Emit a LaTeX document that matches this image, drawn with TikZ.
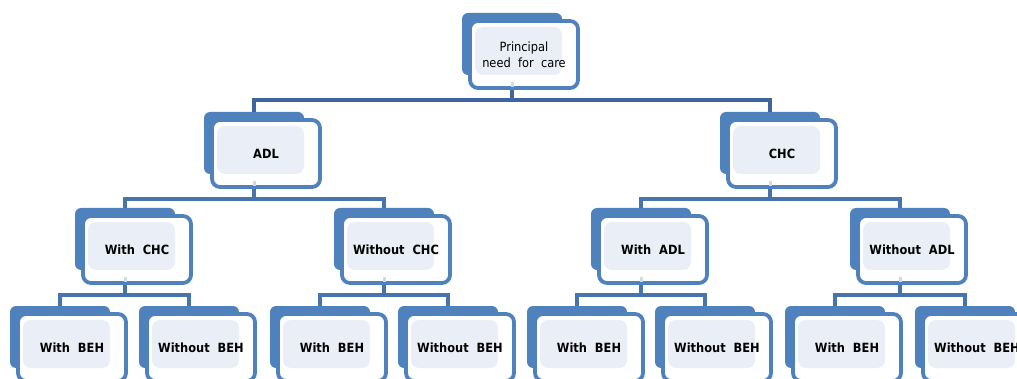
\documentclass[tikz,border=0pt]{standalone}
\usepackage{fontspec}
\setmainfont{DejaVu Sans Condensed}
\definecolor{boxblue}{HTML}{4F81BD}
\definecolor{innerblue}{HTML}{EAEFF7}
\definecolor{lineblue}{HTML}{4874AE}
\definecolor{topline}{HTML}{3F659E}
\definecolor{stubc}{HTML}{D0D9EA}
\tikzset{
  backbox/.style={fill=boxblue, draw=none, rounded corners=6pt, minimum width=100pt, minimum height=62pt, inner sep=0pt},
  frontbox/.style={draw=boxblue, line width=3.8pt, fill=white, rounded corners=8pt,
    minimum width=108pt, minimum height=67pt, inner sep=0pt, align=center,
    font=\fontsize{12.7}{16}\selectfont\bfseries,
    path picture={\fill[innerblue] ([shift={(5pt,-6pt)}]path picture bounding box.north west) rectangle ([shift={(-16pt,13pt)}]path picture bounding box.south east);}},
  conn/.style={draw=lineblue, line width=3.5pt},
  stub/.style={draw=stubc, line width=3pt},
}
\newcommand{\orgbox}[4]{%
  \node[backbox] (#1B) at ({#2},{#3+31}) {};
  \node[frontbox] (#1) at ({#2+12},{#3+41.5}) {#4};
}
\newcommand{\branch}[4][lineblue]{%
  \draw[stub] ([yshift=8pt]#2B.center |- #2.south) -- ([yshift=2.5pt]#2B.center |- #2.south);
  \draw[conn,draw=#1] (#2B.center |- #2.south) -- ++(0,10) coordinate (#2j);
  \draw[conn,draw=#1] (#3B.north) |- (#2j) -| (#4B.north);
}
\begin{document}
\begin{tikzpicture}[x=1pt,y=-1pt]
\useasboundingbox (0,0) rectangle (1017,379);
% level 0
\orgbox{p}{512}{13}{\mdseries Principal\\\mdseries need~ for~ care}
% level 1
\orgbox{adl}{254}{112}{ADL}
\orgbox{chc}{770}{112}{CHC}
% level 2
\orgbox{wchc}{125}{208}{With~ CHC}
\orgbox{wochc}{384}{208}{Without~ CHC}
\orgbox{wadl}{641}{208}{With~ ADL}
\orgbox{woadl}{900}{208}{Without~ ADL}
% level 3
\orgbox{a1}{60}{306}{With~ BEH}
\orgbox{a2}{189}{306}{Without~ BEH}
\orgbox{b1}{320}{306}{With~ BEH}
\orgbox{b2}{448}{306}{Without~ BEH}
\orgbox{c1}{577}{306}{With~ BEH}
\orgbox{c2}{705}{306}{Without~ BEH}
\orgbox{d1}{835}{306}{With~ BEH}
\orgbox{d2}{965}{306}{Without~ BEH}
% connectors
\branch[topline]{p}{adl}{chc}
\branch{adl}{wchc}{wochc}
\branch{chc}{wadl}{woadl}
\branch{wchc}{a1}{a2}
\branch{wochc}{b1}{b2}
\branch{wadl}{c1}{c2}
\branch{woadl}{d1}{d2}
\end{tikzpicture}
\end{document}
